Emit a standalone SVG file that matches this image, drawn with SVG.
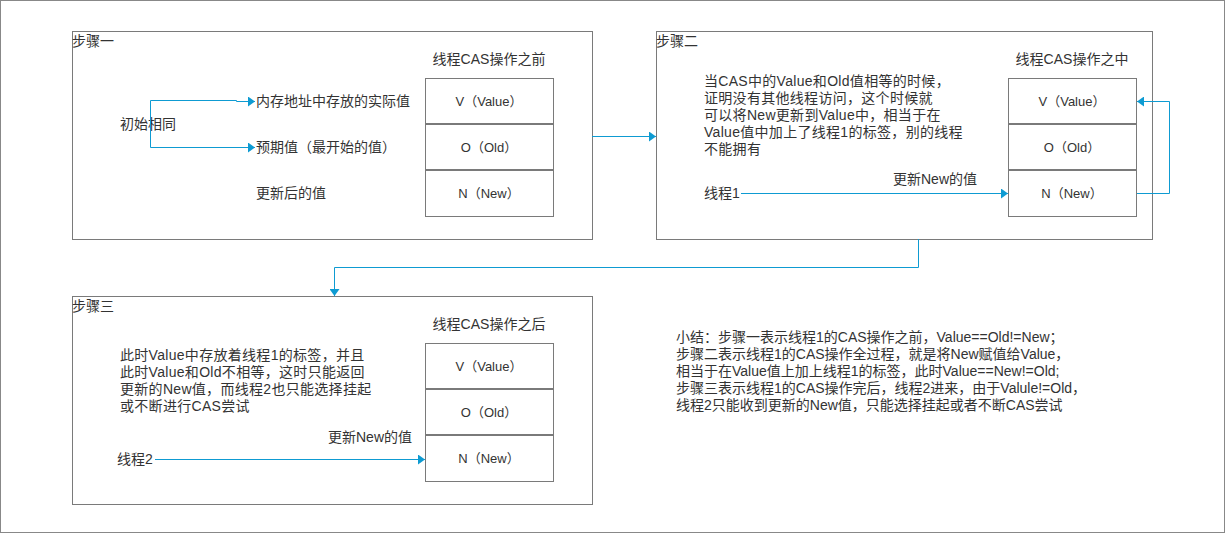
<svg xmlns="http://www.w3.org/2000/svg" width="1225" height="533" viewBox="0 0 1225 533">
<style>
text{font-family:"Liberation Sans","Noto Sans CJK SC",sans-serif;font-size:14px;fill:#333;dominant-baseline:central}
.cell text{font-size:13px;text-anchor:middle}
.box{fill:#fff;stroke:#7a7a7a;stroke-width:1}
.sep{stroke:#7a7a7a;stroke-width:2}
.conn{fill:none;stroke:#0e9bd2;stroke-width:1}
.mid{text-anchor:middle}
.p{letter-spacing:0.3px}
</style>
<defs>
<marker id="arr" viewBox="0 0 7 10" refX="7" refY="5" markerWidth="7" markerHeight="10" markerUnits="userSpaceOnUse" orient="auto">
<path d="M0,0 L7,5 L0,10 z" fill="#0e9bd2"/>
</marker>
</defs>
<rect x="0.5" y="0.5" width="1224" height="532" fill="#fff" stroke="#888"/>

<g id="step1">
<rect class="box" x="72.5" y="31.5" width="520" height="208"/>
<text x="72" y="41">步骤一</text>
<text x="489" y="59" class="mid">线程CAS操作之前</text>
<text x="120" y="124">初始相同</text>
<text x="256" y="101">内存地址中存放的实际值</text>
<text x="256" y="147">预期值（最开始的值）</text>
<text x="256" y="193">更新后的值</text>
<g class="cell">
<rect class="box" x="425.5" y="78.5" width="128" height="138"/>
<line class="sep" x1="425" y1="124" x2="554" y2="124"/>
<line class="sep" x1="425" y1="170" x2="554" y2="170"/>
<text x="489" y="101">V（Value）</text>
<text x="489" y="147">O（Old）</text>
<text x="489" y="193">N（New）</text>
</g>
</g>

<g id="step2">
<rect class="box" x="656.5" y="31.5" width="496" height="208"/>
<text x="656" y="41">步骤二</text>
<text x="1072" y="59" class="mid">线程CAS操作之中</text>
<text class="p" x="704" y="81">当CAS中的Value和Old值相等的时候，</text>
<text class="p" x="704" y="98">证明没有其他线程访问，这个时候就</text>
<text class="p" x="704" y="115">可以将New更新到Value中，相当于在</text>
<text class="p" x="704" y="132">Value值中加上了线程1的标签，别的线程</text>
<text class="p" x="704" y="149">不能拥有</text>
<text x="704" y="193">线程1</text>
<text x="893" y="179">更新New的值</text>
<g class="cell">
<rect class="box" x="1008.5" y="78.5" width="128" height="138"/>
<line class="sep" x1="1008" y1="124" x2="1137" y2="124"/>
<line class="sep" x1="1008" y1="170" x2="1137" y2="170"/>
<text x="1072" y="101">V（Value）</text>
<text x="1072" y="147">O（Old）</text>
<text x="1072" y="193">N（New）</text>
</g>
</g>

<g id="step3">
<rect class="box" x="72.5" y="296.5" width="520" height="208"/>
<text x="72" y="306">步骤三</text>
<text x="489" y="324" class="mid">线程CAS操作之后</text>
<text class="p" x="120" y="355">此时Value中存放着线程1的标签，并且</text>
<text class="p" x="120" y="372">此时Value和Old不相等，这时只能返回</text>
<text class="p" x="120" y="389">更新的New值，而线程2也只能选择挂起</text>
<text class="p" x="120" y="406">或不断进行CAS尝试</text>
<text x="117" y="459">线程2</text>
<text x="328" y="437">更新New的值</text>
<g class="cell">
<rect class="box" x="425.5" y="343.5" width="128" height="138"/>
<line class="sep" x1="425" y1="389" x2="554" y2="389"/>
<line class="sep" x1="425" y1="435" x2="554" y2="435"/>
<text x="489" y="366">V（Value）</text>
<text x="489" y="412">O（Old）</text>
<text x="489" y="458">N（New）</text>
</g>
</g>

<g id="summary">
<text x="676" y="337">小结：步骤一表示线程1的CAS操作之前，Value==Old!=New；</text>
<text x="676" y="354">步骤二表示线程1的CAS操作全过程，就是将New赋值给Value，</text>
<text x="676" y="371">相当于在Value值上加上线程1的标签，此时Value==New!=Old;</text>
<text x="676" y="388">步骤三表示线程1的CAS操作完后，线程2进来，由于Valule!=Old，</text>
<text x="676" y="405">线程2只能收到更新的New值，只能选择挂起或者不断CAS尝试</text>
</g>

<g id="connectors">
<path class="conn" d="M150.5,147.5 L150.5,100.5 L236.5,100.5 L236.5,101.5 L255,101.5" marker-end="url(#arr)"/>
<path class="conn" d="M150.5,147.5 L255,147.5" marker-end="url(#arr)"/>
<path class="conn" d="M592,136.5 L656,136.5" marker-end="url(#arr)"/>
<path class="conn" d="M918.5,239 L918.5,267.5 L334.5,267.5 L334.5,296" marker-end="url(#arr)"/>
<path class="conn" d="M741,193.5 L1008,193.5" marker-end="url(#arr)"/>
<path class="conn" d="M1137,193.5 L1169.5,193.5 L1169.5,101.5 L1137,101.5" marker-end="url(#arr)"/>
<path class="conn" d="M155,459.5 L425,459.5" marker-end="url(#arr)"/>
</g>
</svg>
